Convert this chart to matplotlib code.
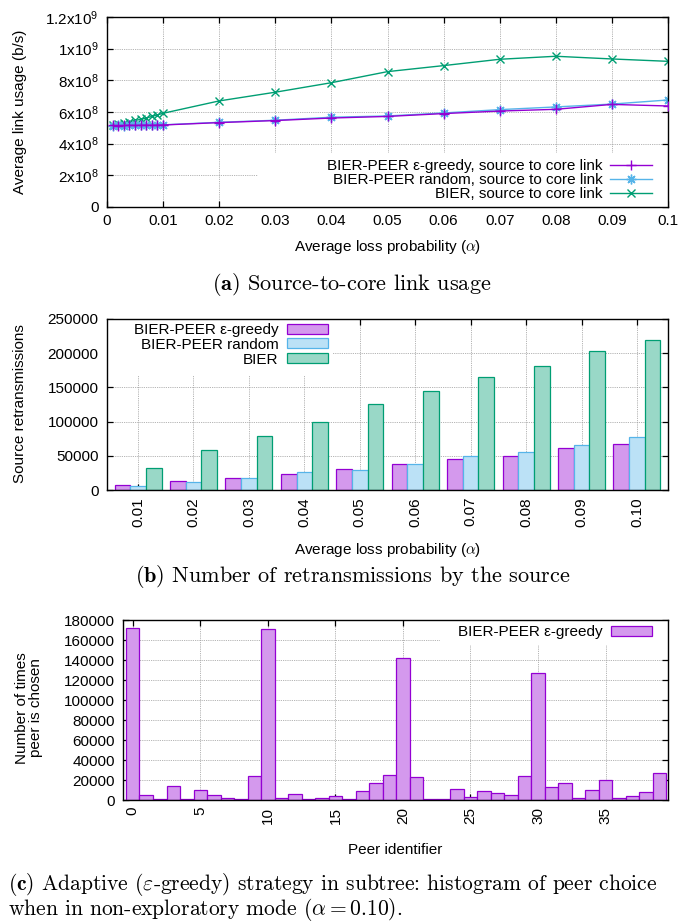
import matplotlib
matplotlib.use('Agg')
import matplotlib.pyplot as plt
import numpy as np
from matplotlib.patches import Rectangle

# ---------------- data ----------------
alpha_line = [0.001, 0.002, 0.003, 0.004, 0.005, 0.006, 0.007, 0.008, 0.009, 0.010,
              0.02, 0.03, 0.04, 0.05, 0.06, 0.07, 0.08, 0.09, 0.10]
usage_greedy = [5.15e8, 5.14e8, 5.15e8, 5.16e8, 5.15e8, 5.16e8, 5.17e8, 5.16e8, 5.17e8, 5.18e8,
                5.33e8, 5.46e8, 5.62e8, 5.72e8, 5.90e8, 6.06e8, 6.17e8, 6.48e8, 6.38e8]
usage_random = [5.14e8, 5.15e8, 5.14e8, 5.15e8, 5.16e8, 5.15e8, 5.16e8, 5.17e8, 5.18e8, 5.19e8,
                5.35e8, 5.48e8, 5.67e8, 5.75e8, 5.94e8, 6.15e8, 6.32e8, 6.50e8, 6.76e8]
usage_bier = [5.18e8, 5.25e8, 5.30e8, 5.38e8, 5.47e8, 5.53e8, 5.62e8, 5.72e8, 5.82e8, 5.92e8,
              6.70e8, 7.25e8, 7.85e8, 8.55e8, 8.93e8, 9.33e8, 9.52e8, 9.35e8, 9.20e8]
top_xticks = [0, 0.01, 0.02, 0.03, 0.04, 0.05, 0.06, 0.07, 0.08, 0.09, 0.1]
top_xticklabels = ['0', '0.01', '0.02', '0.03', '0.04', '0.05', '0.06', '0.07', '0.08', '0.09', '0.1']
top_yticks = [0, 2e8, 4e8, 6e8, 8e8, 1e9, 1.2e9]
top_yticklabels = ['0', r'2x10$^{8}$', r'4x10$^{8}$', r'6x10$^{8}$', r'8x10$^{8}$',
                   r'1x10$^{9}$', r'1.2x10$^{9}$']

loss_cats = ['0.01', '0.02', '0.03', '0.04', '0.05', '0.06', '0.07', '0.08', '0.09', '0.10']
retx_greedy = [6900, 12700, 17100, 23800, 31200, 38000, 45800, 49300, 61400, 67700]
retx_random = [5400, 11200, 17100, 25900, 29700, 38000, 49300, 55100, 66200, 77500]
retx_bier = [31700, 58000, 78500, 100000, 125300, 144300, 164800, 181700, 203700, 219700]
mid_yticks = [0, 50000, 100000, 150000, 200000, 250000]

peer_ids = list(range(40))
peer_counts = [171700, 5300, 800, 14000, 800, 10500, 5000, 2500, 800, 24500,
               170700, 2300, 6200, 900, 2000, 4300, 900, 9300, 17300, 25300,
               141700, 23500, 900, 900, 11300, 3500, 9300, 7300, 4600, 24500,
               126700, 12800, 16800, 2300, 10200, 20200, 2000, 4300, 8200, 26800]
bot_xticks = [0, 5, 10, 15, 20, 25, 30, 35]
bot_yticks = list(range(0, 180001, 20000))

# ---------------- style ----------------
C_GREEDY, C_RANDOM, C_BIER = '#9400d3', '#56b4e9', '#009e73'
F_GREEDY, F_RANDOM, F_BIER = '#d499ed', '#bbe1f6', '#99d8c7'

fs = 11
plt.rcParams['font.family'] = ['Liberation Sans', 'DejaVu Sans']
plt.rcParams['mathtext.fontset'] = 'custom'
plt.rcParams['mathtext.rm'] = 'Liberation Sans'
plt.rcParams['mathtext.it'] = 'Liberation Sans:italic'
plt.rcParams['mathtext.bf'] = 'Liberation Sans:bold'
plt.rcParams.update({
    'font.size': fs, 'axes.linewidth': 1.0,
    'xtick.direction': 'in', 'ytick.direction': 'in',
    'xtick.top': True, 'ytick.right': True,
    'xtick.major.size': 4, 'ytick.major.size': 4,
    'xtick.major.width': 0.9, 'ytick.major.width': 0.9,
    'xtick.major.pad': 5.0, 'ytick.major.pad': 6.0,
})
grid_kw = dict(color='#9a9a9a', linestyle=(0, (1, 1.2)), linewidth=0.6)

W, H = 684, 923
fig = plt.figure(figsize=(W / 100, H / 100), dpi=100)


def add_ax(l, t, r, b):
    return fig.add_axes([l / W, 1 - b / H, (r - l) / W, (b - t) / H])


def fx(px):
    return px / W


def fy(py):
    return 1 - py / H


cap_kw = dict(family='cmr10', math_fontfamily='cm', fontsize=16)

# ---------------- (a) ----------------
ax1 = add_ax(107, 17, 668, 207)
ax1.set_axisbelow(True)
ax1.plot(alpha_line, usage_greedy, color=C_GREEDY, marker='+', ms=7, mew=1, lw=1,
         label='BIER-PEER ε-greedy, source to core link', zorder=3)
ax1.plot(alpha_line, usage_random, color=C_RANDOM, marker=(8, 2, 0), ms=7, mew=1, lw=1,
         label='BIER-PEER random, source to core link', zorder=2.5)
ax1.plot(alpha_line, usage_bier, color=C_BIER, marker='x', ms=6, mew=1, lw=1,
         label='BIER, source to core link', zorder=2)
ax1.set_xlim(0, 0.1)
ax1.set_ylim(0, 1.2e9)
ax1.set_xticks(top_xticks)
ax1.set_xticklabels(top_xticklabels)
ax1.set_yticks(top_yticks)
ax1.set_yticklabels(top_yticklabels)
ax1.grid(True, **grid_kw)
ax1.add_patch(Rectangle((0.269, 0), 0.731, 0.284, transform=ax1.transAxes,
                        fc='white', ec='none', zorder=0.8))
ax1.legend(loc='lower right', bbox_to_anchor=(fx(652), fy(201)), bbox_transform=fig.transFigure,
           frameon=False, markerfirst=False, borderpad=0, labelspacing=0.0,
           handlelength=2.75, handletextpad=0.5, borderaxespad=0, fontsize=fs)
fig.text(fx(20), fy(112), 'Average link usage (b/s)', rotation=90, ha='center', va='center')
fig.text(fx(388), fy(247), r'Average loss probability ($\alpha$)', ha='center', va='center',
         math_fontfamily='cm')
fig.text(fx(352), fy(285), r'$\mathbf{(a)}$ Source-to-core link usage', ha='center', va='center', **cap_kw)

# ---------------- (b) ----------------
ax2 = add_ax(107, 319, 668, 490)
ax2.set_axisbelow(True)
x = np.arange(len(loss_cats))
w = 0.283
ax2.bar(x - w, retx_greedy, w, color=F_GREEDY, edgecolor=C_GREEDY, lw=0.9, label='BIER-PEER ε-greedy')
ax2.bar(x, retx_random, w, color=F_RANDOM, edgecolor=C_RANDOM, lw=0.9, label='BIER-PEER random')
ax2.bar(x + w, retx_bier, w, color=F_BIER, edgecolor=C_BIER, lw=0.9, label='BIER')
ax2.set_xlim(-0.56, len(loss_cats) - 1 + 0.56)
ax2.set_ylim(0, 250000)
ax2.set_xticks(x)
ax2.set_xticklabels(loss_cats, rotation=90, va='top', ha='center')
ax2.set_yticks(mid_yticks)
ax2.set_yticklabels([str(v) for v in mid_yticks])
ax2.grid(True, **grid_kw)
ax2.add_patch(Rectangle((0, 0.673), 0.403, 0.327, transform=ax2.transAxes,
                        fc='white', ec='none', zorder=0.8))
ax2.legend(loc='upper right', bbox_to_anchor=(fx(328), fy(323)), bbox_transform=fig.transFigure,
           frameon=False, markerfirst=False, borderpad=0, labelspacing=0.05,
           handlelength=2.7, handleheight=0.65, handletextpad=0.55, borderaxespad=0, fontsize=fs)
fig.text(fx(20), fy(404), 'Source retransmissions', rotation=90, ha='center', va='center')
fig.text(fx(388), fy(550), r'Average loss probability ($\alpha$)', ha='center', va='center',
         math_fontfamily='cm')
fig.text(fx(353), fy(576), r'$\mathbf{(b)}$ Number of retransmissions by the source',
         ha='center', va='center', **cap_kw)

# ---------------- (c) ----------------
ax3 = add_ax(123, 620, 668, 800)
ax3.set_axisbelow(True)
ax3.bar(peer_ids, peer_counts, 1.0, color=F_GREEDY, edgecolor=C_GREEDY, lw=0.9,
        label='BIER-PEER ε-greedy')
ax3.set_xlim(-0.72, 39.62)
ax3.set_ylim(0, 180000)
ax3.set_xticks(bot_xticks)
ax3.set_xticklabels([str(v) for v in bot_xticks], rotation=90, va='top', ha='center')
ax3.set_yticks(bot_yticks)
ax3.set_yticklabels([str(v) for v in bot_yticks])
ax3.grid(True, **grid_kw)
ax3.add_patch(Rectangle((0.582, 0.861), 0.418, 0.139, transform=ax3.transAxes,
                        fc='white', ec='none', zorder=0.8))
ax3.legend(loc='upper right', bbox_to_anchor=(fx(652), fy(625)), bbox_transform=fig.transFigure,
           frameon=False, markerfirst=False, borderpad=0, labelspacing=0.0,
           handlelength=2.7, handleheight=0.65, handletextpad=0.55, borderaxespad=0, fontsize=fs)
fig.text(fx(29), fy(708), 'Number of times\npeer is chosen', rotation=90, ha='center', va='center',
         linespacing=1.05)
fig.text(fx(395), fy(850), 'Peer identifier', ha='center', va='center')
fig.text(fx(8), fy(897),
         r'$\mathbf{(c)}$ Adaptive ($\varepsilon$-greedy) strategy in subtree: histogram of peer choice'
         '\n'
         r'when in non-exploratory mode ($\alpha = 0.10$).',
         ha='left', va='center', linespacing=0.88, family='cmr10', math_fontfamily='cm',
         fontsize=15.5)

fig.savefig('out.png', dpi=100)
